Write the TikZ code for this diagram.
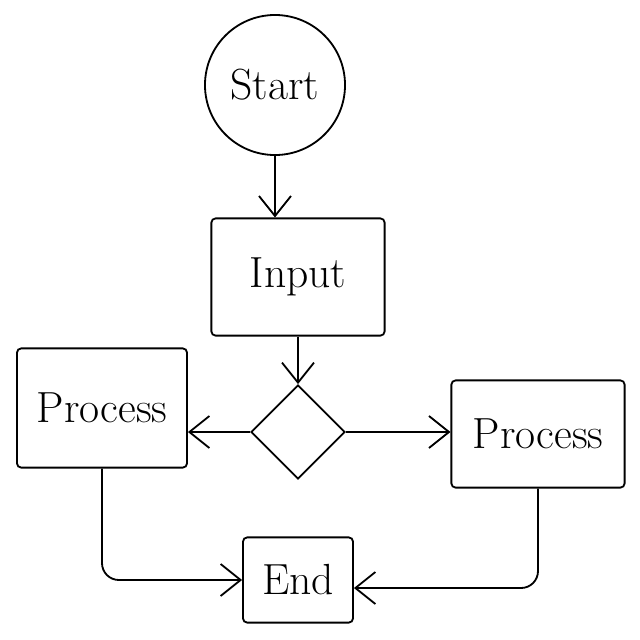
\documentclass[tikz,border=0pt]{standalone}
\usepackage{tikz}
\usetikzlibrary{positioning,arrows.meta,shapes.geometric}

\begin{document}
\begin{tikzpicture}[
  x=0.025cm, y=-0.025cm,
  box/.style={draw, line width=1.3pt, rounded corners=3pt, align=center, font=\fontsize{31}{36}\selectfont, inner sep=3pt},
  arr/.style={-{Straight Barb[length=5mm, width=8mm]}, line width=1.3pt}
]
\fill[white] (0,0) rectangle (640,640);
\useasboundingbox (0,0) rectangle (640,640);
\node[box, circle, rounded corners=0pt, minimum size=3.5cm] (start) at (275,85) {Start};
\node[box, minimum width=4.33cm, minimum height=2.93cm] (input) at (298,277) {Input};
\node[box, diamond, rounded corners=0pt, minimum size=2.35cm, inner sep=0pt] (dec) at (298,432) {};
\node[box, minimum width=4.25cm, minimum height=2.98cm] (procL) at (102,408) {Process};
\node[box, minimum width=4.33cm, minimum height=2.68cm] (procR) at (538,434) {Process};
\node[box, minimum width=2.75cm, minimum height=2.13cm] (stop) at (298,580) {End};
\draw[arr] (start.south) -- (start.south |- input.north);
\draw[arr] (input.south) -- (dec.north);
\draw[arr] (dec.west) -- (dec.west -| procL.east);
\draw[arr] (dec.east) -- (dec.east -| procR.west);
\draw[arr, rounded corners=12pt] (procL.south) |- (stop.west);
\draw[arr, rounded corners=12pt] (procR.south) |- ([yshift=-0.2cm]stop.east);
\end{tikzpicture}
\end{document}
